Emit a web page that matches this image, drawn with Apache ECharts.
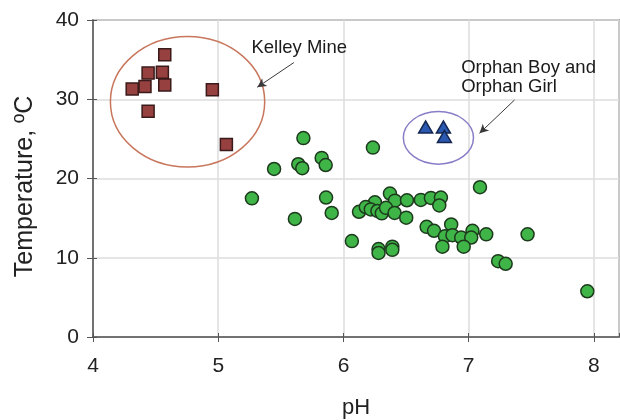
<!DOCTYPE html>
<html><head><meta charset="utf-8">
<script src="https://cdn.jsdelivr.net/npm/echarts@6/dist/echarts.min.js"></script>
<style>html,body{margin:0;padding:0;background:#fff}#c{width:620px;height:420px}</style>
</head><body><div id="c"></div>
<script>
// ---- data ----
const xTicks = [4, 5, 6, 7, 8];
const yTicks = [0, 10, 20, 30, 40];
const xTitle = 'pH';
const yTitle = 'Temperature, ºC';

const kelleyMine = [
  [4.573, 35.6], [4.44, 33.3], [4.554, 33.4], [4.313, 31.3], [4.415, 31.6],
  [4.573, 31.8], [4.953, 31.2], [4.44, 28.5], [5.065, 24.3]
];
const orphanBoyGirl = [[6.656, 26.5], [6.798, 26.5], [6.806, 25.3]];
const otherSites = [
  [5.68, 25.1], [6.235, 23.9], [5.446, 21.2], [5.639, 21.8], [5.671, 21.3],
  [5.826, 22.6], [5.858, 21.7], [5.269, 17.5], [5.861, 17.6], [5.906, 15.65],
  [5.612, 14.9], [6.067, 12.1], [6.28, 11.1], [6.28, 10.6], [6.39, 11.4],
  [6.39, 11.0], [7.09, 18.9], [6.371, 18.1], [6.251, 17.0], [6.411, 17.2],
  [6.507, 17.25], [6.618, 17.3], [6.698, 17.55], [6.778, 17.6], [6.765, 16.6],
  [6.124, 15.8], [6.178, 16.4], [6.218, 16.1], [6.271, 15.9], [6.306, 15.6],
  [6.34, 16.3], [6.408, 15.65], [6.501, 15.06], [6.664, 13.9], [6.723, 13.4],
  [6.86, 14.2], [6.81, 12.7], [6.87, 12.85], [6.94, 12.55], [7.03, 13.4],
  [7.02, 12.55], [6.79, 11.4], [6.96, 11.4], [7.14, 12.95], [7.47, 12.95],
  [7.235, 9.57], [7.295, 9.24], [7.947, 5.77]
];

// annotations (data coordinates)
const kelleyLabel = 'Kelley Mine';
const orphanLabel = 'Orphan Boy and\nOrphan Girl';
const kelleyEllipse = [4.755, 29.68, 0.616, 8.23];   // centre x, centre y, radius x, radius y
const orphanEllipse = [6.758, 25.13, 0.28, 3.32];
const kelleyArrow = [[5.604, 34.63], [5.312, 31.52]];
const orphanArrow = [[7.366, 29.91], [7.086, 25.7]];
const kelleyLabelAt = [5.265, 37.7];
const orphanLabelAt = [6.94, 35.2];

// ---- chart ----
const FONT = 'Liberation Sans, Arial, sans-serif';
const chart = echarts.init(document.getElementById('c'), null, {renderer: 'canvas'});

const xLab = v => xTicks.indexOf(v) >= 0 ? String(v) : '';
const yLab = v => yTicks.indexOf(v) >= 0 ? String(v) : '';

const arrowLine = (a) => [{coord: a[0], symbol: 'none'}, {coord: a[1], symbol: 'arrow'}];

chart.setOption({
  animation: false,
  backgroundColor: '#fff',
  grid: {left: 93, right: 1, top: 20, bottom: 83, outerBoundsMode: 'none', containLabel: false,
    show: true, borderColor: '#6a6a6a', borderWidth: 1.5, backgroundColor: 'transparent'},
  xAxis: [{
    type: 'value', min: xTicks[0], max: 8.2, interval: 1,
    name: xTitle, nameLocation: 'middle', nameGap: 60,
    nameTextStyle: {fontFamily: FONT, fontSize: 22, color: '#222'},
    axisLine: {show: true, onZero: false, lineStyle: {color: '#555', width: 1.5}},
    axisTick: {show: true, length: 5, lineStyle: {color: '#555'}},
    axisLabel: {formatter: xLab, fontFamily: FONT, fontSize: 21, color: '#222', margin: 19, showMaxLabel: false},
    splitLine: {show: true, lineStyle: {color: '#dcdcdc', width: 1.5}}
  }, {
    type: 'value', min: xTicks[0], max: 8.2, interval: 1, position: 'bottom',
    axisLine: {show: false}, axisTick: {show: true, inside: true, length: 4, lineStyle: {color: '#555'}},
    axisLabel: {show: false}, splitLine: {show: false}
  }],
  yAxis: [{
    type: 'value', min: yTicks[0], max: yTicks[yTicks.length - 1], interval: 10,
    name: yTitle, nameLocation: 'middle', nameGap: 55,
    nameTextStyle: {fontFamily: FONT, fontSize: 25, color: '#222', padding: [0, 16, 0, 0]},
    axisLine: {show: true, onZero: false, lineStyle: {color: '#555', width: 1.5}},
    axisTick: {show: true, length: 6, lineStyle: {color: '#555'}},
    axisLabel: {formatter: yLab, fontFamily: FONT, fontSize: 21, color: '#222', margin: 14},
    splitLine: {show: true, lineStyle: {color: '#dcdcdc', width: 1.5}}
  }, {
    type: 'value', min: yTicks[0], max: yTicks[yTicks.length - 1], interval: 10, position: 'left',
    axisLine: {show: false}, axisTick: {show: true, inside: true, length: 4, lineStyle: {color: '#555'}},
    axisLabel: {show: false}, splitLine: {show: false}
  }],
  series: [{
    name: 'Other sites', type: 'scatter', data: otherSites,
    symbol: 'circle', symbolSize: 13,
    itemStyle: {color: '#3fb548', borderColor: '#1d3a1d', borderWidth: 1.5, opacity: 1},
    markLine: {
      silent: true, symbolSize: [7, 9], precision: 4,
      lineStyle: {color: '#3a3a3a', width: 1, type: 'solid'},
      label: {show: false},
      data: [arrowLine(kelleyArrow), arrowLine(orphanArrow)]
    }
  }, {
    name: 'Kelley Mine', type: 'scatter', data: kelleyMine,
    symbol: 'rect', symbolSize: 12,
    itemStyle: {color: '#96403f', borderColor: '#3a1a1a', borderWidth: 1.5, opacity: 1}
  }, {
    name: 'Orphan Boy and Orphan Girl', type: 'scatter', data: orphanBoyGirl,
    symbol: 'triangle', symbolSize: [14, 12],
    itemStyle: {color: '#2b58b0', borderColor: '#142650', borderWidth: 1.5, opacity: 1}
  }]
});

function px(p) { return chart.convertToPixel({gridIndex: 0}, p); }
function ellipseEl(e, color) {
  const c = px([e[0], e[1]]);
  const r = px([e[0] + e[2], e[1] + e[3]]);
  return {type: 'ellipse', silent: true, z: 0,
    shape: {cx: c[0], cy: c[1], rx: Math.abs(r[0] - c[0]), ry: Math.abs(r[1] - c[1])},
    style: {fill: 'none', stroke: color, lineWidth: 1.5}};
}
function textEl(t, at) {
  const p = px(at);
  return {type: 'text', silent: true, z: 10, x: p[0], y: p[1],
    style: {text: t, fill: '#1a1a1a', font: '18.5px ' + FONT, textAlign: 'left', textVerticalAlign: 'top', lineHeight: 19}};
}
chart.setOption({graphic: [
  ellipseEl(kelleyEllipse, '#c8765c'),
  ellipseEl(orphanEllipse, '#8a7cc6'),
  textEl(kelleyLabel, kelleyLabelAt),
  textEl(orphanLabel, orphanLabelAt)
]});
</script></body></html>
